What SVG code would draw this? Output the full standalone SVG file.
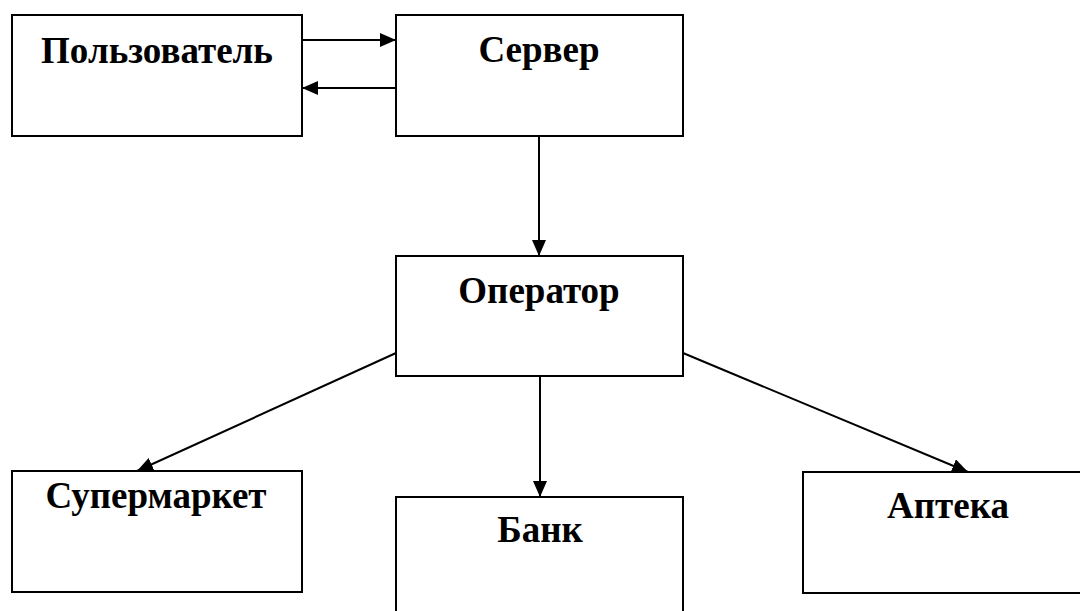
<svg xmlns="http://www.w3.org/2000/svg" width="1080" height="611" viewBox="0 0 1080 611">
<style>
.box{fill:#fff;stroke:#000;stroke-width:2}
.lbl{font-family:"Liberation Serif","Times New Roman",serif;font-weight:bold;font-size:37px;text-anchor:middle;fill:#000}
.con{stroke:#000;stroke-width:2;fill:none;marker-end:url(#ah)}
</style>
<defs>
<marker id="ah" markerWidth="16" markerHeight="14" viewBox="0 0 16 14" refX="16" refY="7" orient="auto" markerUnits="userSpaceOnUse">
<path d="M0,0 L16,7 L0,14 Z" fill="#000"/>
</marker>
</defs>
<rect width="1080" height="611" fill="#fff"/>
<g id="user"><rect class="box" x="12" y="15" width="290" height="121"/><text class="lbl" x="157" y="63">Пользователь</text></g>
<g id="server"><rect class="box" x="396" y="15" width="287" height="121"/><text class="lbl" x="539" y="62">Сервер</text></g>
<g id="operator"><rect class="box" x="396" y="256" width="287" height="120"/><text class="lbl" x="539" y="303">Оператор</text></g>
<g id="supermarket"><rect class="box" x="12" y="471" width="290" height="121"/><text class="lbl" x="156" y="508">Супермаркет</text></g>
<g id="bank"><rect class="box" x="396" y="497" width="287" height="130"/><text class="lbl" x="540" y="542">Банк</text></g>
<g id="pharmacy"><rect class="box" x="803" y="472" width="300" height="121"/><text class="lbl" x="948" y="518">Аптека</text></g>
<g id="connectors">
<line class="con" x1="302" y1="40" x2="396" y2="40"/>
<line class="con" x1="396" y1="88" x2="302" y2="88"/>
<line class="con" x1="539" y1="136" x2="539" y2="256"/>
<line class="con" x1="396" y1="353" x2="137" y2="471"/>
<line class="con" x1="540" y1="376" x2="540" y2="497"/>
<line class="con" x1="683" y1="353" x2="968" y2="472"/>
</g>
</svg>
